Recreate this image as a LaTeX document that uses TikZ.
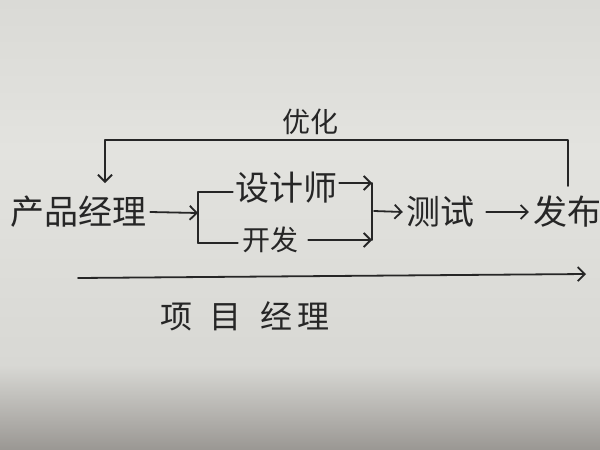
\documentclass[tikz,border=0pt]{standalone}
\usepackage{fontspec}
\newfontfamily\cjk{Noto Sans CJK SC}
\usetikzlibrary{arrows.meta}
\definecolor{paperA}{HTML}{DADAD6}
\definecolor{paperB}{HTML}{E3E3DF}
\definecolor{paperC}{HTML}{D8D8D4}
\definecolor{paperD}{HTML}{9A9793}
\definecolor{ink}{HTML}{262626}
\tikzset{
  lbl/.style={inner sep=0pt, text=ink, font=\cjk\fontsize{34}{36}\selectfont},
  lblsmall/.style={lbl, font=\cjk\fontsize{28}{30}\selectfont},
  ln/.style={draw=ink, line width=1.8pt, line cap=round, line join=round},
  arr/.style={ln, -{Straight Barb[length=7pt,width=14pt,line width=1.8pt]}}
}
\begin{document}
\begin{tikzpicture}[x=1pt,y=-1pt]
\useasboundingbox (0,0) rectangle (600,450);
\shade[top color=paperA, bottom color=paperB] (0,0) rectangle (600,151);
\shade[top color=paperB, bottom color=paperC] (0,150) rectangle (600,366);
\shade[top color=paperC, bottom color=paperD] (0,365) rectangle (600,450);
% nodes
\node[lbl] (pm) at (78,212) {产品经理};
\node[lbl] (design) at (286,188) {设计师};
\node[lblsmall] (dev) at (270,240) {开发};
\node[lbl] (test) at (440,212) {测试};
\node[lbl] (release) at (567,212) {发布};
\node[lblsmall] (opt) at (310,122) {优化};
\node[lbl, font=\cjk\fontsize{32}{34}\selectfont] (proj) at (245,316) {项\hspace{18pt}目\hspace{18pt}经\hspace{6pt}理};
% coordinates
\coordinate (bl) at (198,213);
\coordinate (blt) at (198,192);
\coordinate (blb) at (198,243);
\coordinate (brt) at (372,183);
\coordinate (brb) at (372,240);
\coordinate (br) at (374,211);
\coordinate (lp) at (105,140);
\coordinate (lpend) at (105,183);
\coordinate (rtop) at (568,186);
\coordinate (a1) at (78,278);
\coordinate (a2) at (586,274);
% connectors
\draw[arr] ([xshift=4pt]pm.east) -- (bl);
\draw[ln] (blt) -- (blb);
\draw[ln] (blt) -- ([xshift=-2pt]design.west |- blt);
\draw[ln] (blb) -- ([xshift=-4pt]dev.west |- blb);
\draw[arr] ([xshift=2pt]design.east |- brt) -- (brt);
\draw[arr] ([xshift=10pt]dev.east |- brb) -- (brb);
\draw[ln] (brt) -- (brb);
\draw[arr] (br) -- ([xshift=-3pt]test.west);
\draw[arr] ([xshift=12pt]test.east) -- ([xshift=-4pt]release.west);
\draw[ln] (rtop) |- (lp);
\draw[arr] (lp) -- (lpend);
\draw[arr] (a1) -- (a2);
\end{tikzpicture}
\end{document}
